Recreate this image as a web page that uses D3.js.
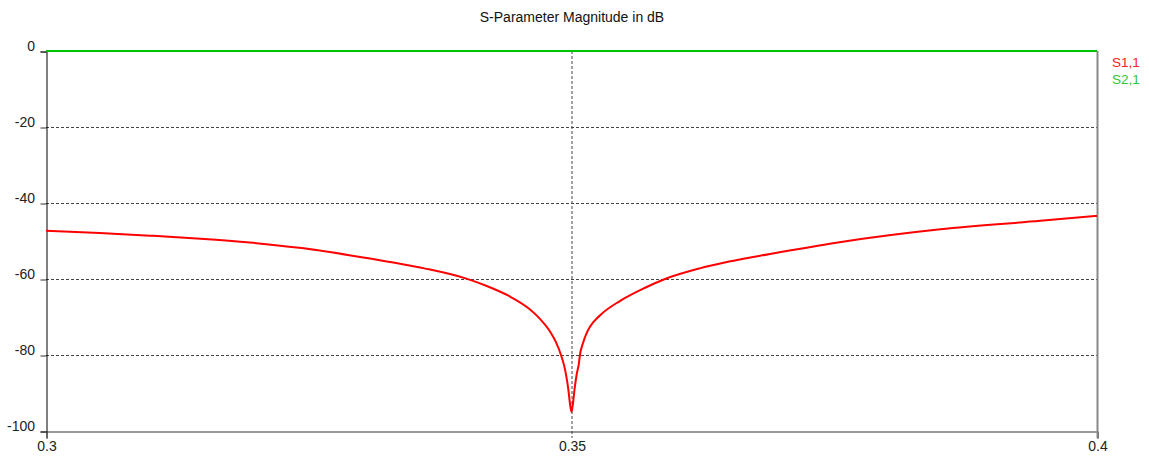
<!DOCTYPE html>
<html><head><meta charset="utf-8">
<script src="https://cdn.jsdelivr.net/npm/d3@7"></script>
<style>body{margin:0;background:#fff}svg{display:block}text{font-family:"Liberation Sans",Arial,sans-serif}</style>
</head><body><svg id="c" width="1149" height="457"></svg>
<script>
const title = "S-Parameter Magnitude in dB";
const seriesNames = ["S1,1", "S2,1"];
const seriesColors = ["#ff0000", "#00c400"];
const xTicks = [0.3, 0.35, 0.4];
const xTickLabels = ["0.3", "0.35", "0.4"];
const yTicks = [0, -20, -40, -60, -80, -100];
const yTickLabels = ["0", "-20", "-40", "-60", "-80", "-100"];
const freqS11 = [0.3000,0.3051,0.3099,0.3147,0.3194,0.3241,0.3290,0.3327,0.3360,0.3400,0.3420,0.3440,0.3460,0.3470,0.3480,0.3485,0.3490,0.3493,0.3495,0.3497,0.34985,0.3500,0.35015,0.3503,0.3505,0.3507,0.3508,0.3511,0.3514,0.3518,0.3527,0.3546,0.3570,0.3589,0.3622,0.3650,0.3689,0.3755,0.3851,0.3946,0.4000];
const magS11 = [-47.3,-47.9,-48.6,-49.4,-50.4,-51.8,-53.8,-55.5,-57.2,-59.9,-61.9,-64.4,-67.9,-70.5,-74.0,-76.5,-80.0,-82.8,-85.5,-89.1,-92.7,-95.0,-92.5,-88.8,-85.0,-82.3,-80.0,-76.8,-74.5,-72.4,-69.6,-65.8,-62.3,-60.0,-57.2,-55.4,-53.4,-50.3,-46.9,-44.7,-43.4];
const freqS21 = [0.300, 0.350, 0.400];
const magS21 = [0, 0, 0];

const svg = d3.select("#c");
const L = 46, R = 1097, T = 51, B = 431;
const x = d3.scaleLinear().domain([0.3, 0.4]).range([L, R]);
const y = d3.scaleLinear().domain([0, -100]).range([T, B]);

svg.append("text").attr("x", 572).attr("y", 22).attr("text-anchor", "middle")
  .attr("font-size", 14).attr("fill", "#111").text(title);

// horizontal grid
svg.append("g").selectAll("line").data(yTicks.filter(v => v < 0 && v > -100)).join("line")
  .attr("x1", L).attr("x2", R).attr("y1", d => y(d) + 0.5).attr("y2", d => y(d) + 0.5)
  .attr("stroke", "#444").attr("stroke-dasharray", "3,2");
// vertical grid
svg.append("g").selectAll("line").data(xTicks.filter(v => v > 0.3 && v < 0.4)).join("line")
  .attr("x1", d => x(d) + 0.5).attr("x2", d => x(d) + 0.5).attr("y1", T).attr("y2", B + 7)
  .attr("stroke", "#444").attr("stroke-dasharray", "3,2");

// y axis
const yAx = svg.append("g").attr("transform", `translate(${L + 0.5},0.5)`)
  .call(d3.axisLeft(y).tickValues(yTicks).tickSize(6).tickFormat((d, i) => yTickLabels[i]));
yAx.select(".domain").attr("stroke", "#000");
yAx.selectAll(".tick line").attr("stroke", "#333");
yAx.selectAll(".tick text").attr("font-size", 14).attr("fill", "#222")
  .attr("x", -11.5).attr("dy", -1).attr("font-family", "Liberation Sans");

// x axis
const xAx = svg.append("g").attr("transform", `translate(0.5,${B + 0.5})`)
  .call(d3.axisBottom(x).tickValues(xTicks).tickSize(7).tickFormat((d, i) => xTickLabels[i]));
xAx.select(".domain").attr("stroke", "#333");
xAx.selectAll(".tick line").attr("stroke", (d, i) => i === 1 ? "none" : "#333");
xAx.selectAll(".tick text").attr("font-size", 14).attr("fill", "#222")
  .attr("y", 10).attr("font-family", "Liberation Sans");

// right border
svg.append("line").attr("x1", R + 0.5).attr("x2", R + 0.5).attr("y1", T).attr("y2", B + 7)
  .attr("stroke", "#888").attr("stroke-width", 2);

const line = d3.line().x(d => x(d[0])).y(d => y(d[1])).curve(d3.curveMonotoneX);
svg.append("path").datum(freqS21.map((f, i) => [f, magS21[i]]))
  .attr("d", line).attr("fill", "none").attr("stroke", seriesColors[1]).attr("stroke-width", 2);
svg.append("path").datum(freqS11.map((f, i) => [f, magS11[i]]))
  .attr("d", line).attr("fill", "none").attr("stroke", seriesColors[0]).attr("stroke-width", 2);

// legend
svg.append("g").selectAll("text").data(seriesNames).join("text")
  .attr("x", 1112).attr("y", (d, i) => 67 + i * 17).attr("font-size", 13.5)
  .attr("fill", (d, i) => i === 0 ? "#ff2020" : "#30c830").text(d => d);
</script></body></html>
